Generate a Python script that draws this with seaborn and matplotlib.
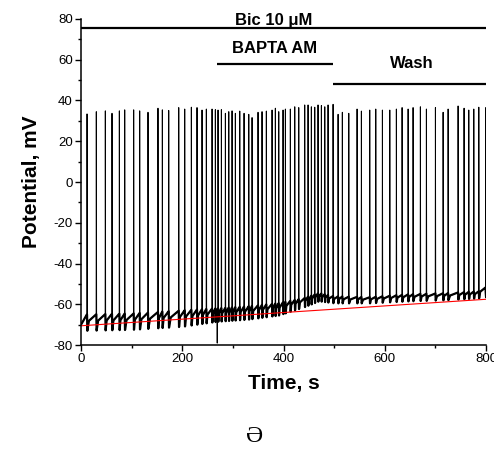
import numpy as np
import pandas as pd
import matplotlib
matplotlib.use("Agg")
import matplotlib.pyplot as plt
import seaborn as sns

# spike times (s) and peak potentials (mV)
spike_t = [11.9, 30.2, 48.0, 61.2, 75.7, 86.3, 104.0, 115.9, 132.3, 152.0, 160.6, 173.2, 193.0,
           204.8, 217.9, 229.1, 239.0, 247.5, 258.8, 265.3, 270.6, 277.2, 285.1, 291.8, 298.3,
           304.8, 313.5, 322.0, 331.3, 337.8, 349.6, 357.5, 366.0, 377.3, 383.8, 390.5, 399.0,
           403.6, 413.4, 422.1, 430.0, 441.8, 448.4, 454.9, 461.6, 468.1, 474.7, 481.4, 487.9,
           497.8, 507.7, 516.1, 528.8, 545.2, 553.7, 570.2, 582.1, 595.2, 609.8, 622.8, 634.1,
           646.0, 655.8, 670.2, 682.1, 699.9, 715.1, 725.0, 744.7, 756.5, 765.8, 775.7, 785.6,
           799.4]
spike_peak = [33.4, 34.5, 34.9, 33.7, 34.9, 35.4, 35.4, 34.9, 34.2, 36.2, 35.4, 35.1, 36.5,
              35.8, 36.7, 36.5, 35.3, 35.8, 35.8, 35.5, 35.3, 35.5, 33.7, 34.5, 34.9,
              33.7, 34.8, 33.7, 33.2, 31.6, 34.2, 34.5, 34.8, 35.3, 36.2, 34.5, 35.3,
              35.8, 35.8, 36.9, 36.5, 37.8, 37.8, 36.9, 36.7, 37.8, 37.5, 36.9, 37.8,
              38.1, 33.2, 34.2, 33.7, 35.8, 34.8, 35.3, 35.8, 35.3, 35.3, 35.8, 36.5,
              35.8, 36.5, 36.9, 35.8, 36.5, 34.2, 35.8, 37.3, 36.2, 35.3, 35.8, 36.7,
              36.5]

# baseline between spikes: after-hyperpolarisation trough and firing threshold
base_t = [0, 100, 200, 270, 330, 390, 440, 470, 500, 570, 650, 720, 790, 800]
trough_v = [-73.0, -72.5, -71.0, -68.5, -67.5, -65.5, -61.5, -58.5, -59.5, -59.5, -58.5, -58.0, -57.0, -56.5]
thresh_v = [-65.0, -64.5, -63.0, -62.0, -61.0, -59.5, -57.0, -54.5, -56.0, -56.5, -55.0, -54.5, -53.5, -51.5]
start_v = -70.0
end_v = -51.5

# artifact
artifact_t = 269.0
artifact_v = -79.0

# red reference line
red_t = [0, 800]
red_v = [-70.5, -57.5]

# application bars
bars = [("Bic 10 \u03bcM", 0, 800, 75.4, 381, 79.3),
        ("BAPTA AM", 268, 497, 57.8, 382, 65.6),
        ("Wash", 498, 800, 48.1, 653, 58.2)]


def build_trace(with_spikes=True):
    ts = [0.0]
    vs = [start_v]
    for i, st in enumerate(spike_t):
        thr = float(np.interp(st, base_t, thresh_v))
        tr = float(np.interp(st, base_t, trough_v))
        nxt = spike_t[i + 1] if i + 1 < len(spike_t) else 800.0
        dt = nxt - st
        thr_next = float(np.interp(nxt, base_t, thresh_v))
        pk = spike_peak[i] if with_spikes else thr
        ts += [st - 0.3, st, st + 0.6, st + 0.2 * dt]
        vs += [thr, pk, tr, tr + 0.6 * (thr_next - tr)]
        if with_spikes and st < artifact_t < nxt:
            b = tr + 0.7 * (thr_next - tr)
            ts += [artifact_t - 0.1, artifact_t, artifact_t + 0.1]
            vs += [b, artifact_v, b]
    ts.append(800.0)
    vs.append(end_v)
    return pd.DataFrame({"t": ts, "v": vs})


sns.set_theme(style="ticks")
plt.rcParams["font.family"] = ["Liberation Sans", "DejaVu Sans"]
plt.rcParams["axes.unicode_minus"] = False
plt.rcParams["text.color"] = "black"
plt.rcParams["axes.labelcolor"] = "black"

fig = plt.figure(figsize=(4.94, 4.5), dpi=100)
ax = fig.add_axes([0.164, 0.233, 0.82, 0.725])

# full trace with spikes, thin
sns.lineplot(data=build_trace(True), x="t", y="v", sort=False, estimator=None,
             color="black", lw=0.7, ax=ax)
# thicker baseline band
sns.lineplot(data=build_trace(False), x="t", y="v", sort=False, estimator=None,
             color="black", lw=1.6, ax=ax)
sns.lineplot(x=red_t, y=red_v, color="red", lw=0.8, ax=ax)

for label, x0, x1, y, tx, ty in bars:
    ax.plot([x0, x1], [y, y], color="black", lw=1.6, solid_capstyle="butt")
    ax.text(tx, ty, label, ha="center", va="center", fontsize=12, fontweight="bold")

ax.set_xlim(0, 800)
ax.set_ylim(-80, 80)
ax.set_xticks(np.arange(0, 801, 200))
ax.set_xticks(np.arange(100, 800, 200), minor=True)
ax.set_yticks(np.arange(-80, 81, 20))
ax.set_yticks(np.arange(-70, 80, 20), minor=True)
ax.tick_params(which="major", direction="out", length=4, width=1, labelsize=9.5,
               colors="black", pad=2)
ax.tick_params(which="minor", direction="out", length=2.5, width=1, colors="black")
for s in ["top", "right"]:
    ax.spines[s].set_visible(False)
for s in ["left", "bottom"]:
    ax.spines[s].set_linewidth(1.1)
    ax.spines[s].set_color("black")

ax.set_xlabel("Time, s", fontsize=15, fontweight="bold", labelpad=6)
ax.set_ylabel("Potential, mV", fontsize=15, fontweight="bold", labelpad=9)

fig.text(255 / 494, 1 - 437 / 450, "\u018f", ha="center", va="center", fontsize=17,
         family=["Liberation Serif", "DejaVu Serif"])

fig.savefig("out.png", dpi=100)
